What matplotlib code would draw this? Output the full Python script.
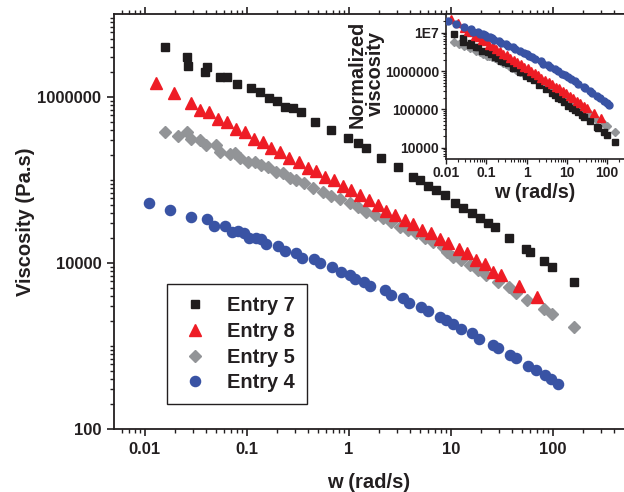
import matplotlib
matplotlib.use('Agg')
import matplotlib.pyplot as plt
from matplotlib.ticker import FixedLocator, FixedFormatter, NullFormatter
import numpy as np

plt.rcParams['font.family'] = ['Liberation Sans', 'DejaVu Sans']
plt.rcParams['font.weight'] = 'bold'

# ---------------- data ----------------
w7 = [0.0157, 0.0257, 0.0268, 0.0387, 0.0408, 0.0543, 0.0641, 0.0804, 0.109, 0.134,
      0.166, 0.198, 0.236, 0.284, 0.343, 0.464, 0.676, 0.984, 1.23, 1.49, 2.09, 3.04,
      4.27, 4.97, 5.99, 7.24, 8.73, 10.9, 13.2, 16.0, 19.2, 23.2, 27.0, 37.1, 55.2,
      60.4, 81.6, 99.3, 160.7]
eta7 = [3.97e6, 3.06e6, 2.36e6, 2.02e6, 2.28e6, 1.73e6, 1.73e6, 1.42e6, 1.27e6, 1.14e6,
        9.65e5, 8.95e5, 7.64e5, 7.31e5, 6.65e5, 5.04e5, 4.0e5, 3.18e5, 2.77e5, 2.41e5,
        1.83e5, 1.42e5, 1.10e5, 1.0e5, 8.47e4, 7.58e4, 6.60e4, 5.24e4, 4.56e4, 3.97e4,
        3.46e4, 3.01e4, 2.69e4, 2.02e4, 1.46e4, 1.37e4, 1.07e4, 9.03e3, 5.95e3]

w8 = [0.0130, 0.0194, 0.0282, 0.0346, 0.0427, 0.0524, 0.0647, 0.078, 0.097, 0.117,
      0.1445, 0.1746, 0.214, 0.258, 0.326, 0.399, 0.482, 0.591, 0.718, 0.879, 1.06,
      1.28, 1.58, 1.94, 2.34, 2.87, 3.54, 4.27, 5.28, 6.47, 7.85, 9.51, 12.1, 14.5,
      17.9, 21.5, 26.0, 31.4, 46.7, 70.2]
eta8 = [1.46e6, 1.13e6, 8.54e5, 6.97e5, 6.54e5, 5.38e5, 4.96e5, 4.11e5, 3.82e5, 3.12e5,
        2.89e5, 2.41e5, 2.19e5, 1.83e5, 1.66e5, 1.38e5, 1.29e5, 1.10e5, 1.0e5, 8.47e4,
        7.58e4, 6.60e4, 5.74e4, 5.0e4, 4.27e4, 3.79e4, 3.30e4, 2.95e4, 2.50e4, 2.28e4,
        1.92e4, 1.73e4, 1.46e4, 1.31e4, 1.09e4, 9.65e3, 7.86e3, 7.17e3, 5.28e3, 3.93e3]

w5 = [0.0159, 0.0212, 0.0257, 0.0287, 0.0346, 0.0396, 0.0505, 0.0543, 0.0681, 0.0762,
      0.0853, 0.103, 0.120, 0.139, 0.162, 0.195, 0.227, 0.264, 0.307, 0.362, 0.447,
      0.560, 0.676, 0.817, 1.02, 1.23, 1.49, 1.80, 2.17, 2.62, 3.16, 3.81, 4.61, 5.56,
      6.70, 8.41, 9.24, 10.5, 12.7, 15.4, 18.5, 22.4, 29.1, 37.1, 43.4, 56.0, 81.6,
      99.3, 160.7]
eta5 = [3.79e5, 3.39e5, 3.82e5, 3.09e5, 3.03e5, 2.64e5, 2.64e5, 2.19e5, 2.06e5, 2.13e5,
        1.83e5, 1.66e5, 1.66e5, 1.52e5, 1.42e5, 1.26e5, 1.20e5, 1.05e5, 1.0e5, 9.2e4,
        8.12e4, 7.23e4, 6.45e4, 5.85e4, 5.24e4, 4.77e4, 4.15e4, 3.79e4, 3.46e4, 3.15e4,
        2.74e4, 2.50e4, 2.28e4, 1.99e4, 1.78e4, 1.56e4, 1.37e4, 1.19e4, 1.09e4, 9.46e3,
        8.24e3, 7.17e3, 5.95e3, 5.18e3, 4.31e3, 3.58e3, 2.77e3, 2.43e3, 1.71e3]

w4 = [0.0109, 0.0176, 0.0287, 0.0412, 0.0474, 0.0618, 0.0718, 0.0817, 0.0935, 0.105,
      0.124, 0.139, 0.156, 0.203, 0.236, 0.307, 0.352, 0.454, 0.529, 0.692, 0.847,
      1.02, 1.15, 1.40, 1.61, 2.25, 2.62, 3.41, 3.90, 5.16, 5.99, 7.80, 8.93, 10.5,
      12.7, 16.0, 19.0, 26.0, 29.1, 37.9, 43.4, 57.3, 68.1, 83.5, 97.1, 112.7]
eta4 = [5.24e4, 4.35e4, 3.61e4, 3.39e4, 2.81e4, 2.81e4, 2.38e4, 2.43e4, 2.32e4, 1.99e4,
        1.99e4, 1.93e4, 1.68e4, 1.60e4, 1.40e4, 1.31e4, 1.16e4, 1.11e4, 9.92e3, 8.88e3,
        7.86e3, 7.17e3, 6.36e3, 5.95e3, 5.28e3, 4.73e3, 4.12e3, 3.76e3, 3.32e3, 2.97e3,
        2.66e3, 2.25e3, 2.06e3, 1.84e3, 1.60e3, 1.42e3, 1.20e3, 1.03e3, 938, 779, 711,
        574, 514, 447, 397, 349]

labels = ['Entry 7', 'Entry 8', 'Entry 5', 'Entry 4']
# normalisation factors of the inset
norm7, norm8, norm5, norm4 = 2.4, 15.5, 15.0, 380.0

x_ticks = [0.01, 0.1, 1, 10, 100]
x_ticklabels = ['0.01', '0.1', '1', '10', '100']
y_ticks = [1e2, 1e4, 1e6]
y_ticklabels = ['100', '10000', '1000000']
yin_ticks = [1e4, 1e5, 1e6, 1e7]
yin_ticklabels = ['10000', '100000', '1000000', '1E7']

# ---------------- style ----------------
C7, C8, C5, C4 = '#1f1c1d', '#ee1c25', '#929497', '#3953a4'
TXT = '#231f20'

fig = plt.figure(figsize=(6.24, 4.92), dpi=100)
W, H = 624.0, 492.0
ax = fig.add_axes([114 / W, 63 / H, 510 / W, 415 / H])

def minors(lo_exp, hi_exp):
    out = []
    for e in range(lo_exp, hi_exp):
        for m in range(1, 10):
            out.append(m * 10.0 ** e)
    return out

h5, = ax.plot(w5, eta5, 'D', color=C5, ms=5.8, mec=C5, ls='none', zorder=2)
h7, = ax.plot(w7, eta7, 's', color=C7, ms=6.3, mec=C7, ls='none', zorder=3)
h8, = ax.plot(w8, eta8, '^', color=C8, ms=8.0, mec=C8, ls='none', zorder=3)
h4, = ax.plot(w4, eta4, 'o', color=C4, ms=7.3, mec=C4, ls='none', zorder=3)

ax.set_xscale('log')
ax.set_yscale('log')
ax.set_xlim(0.005, 500)
ax.set_ylim(100, 1e7)

ax.xaxis.set_major_locator(FixedLocator(x_ticks))
ax.xaxis.set_major_formatter(FixedFormatter(x_ticklabels))
ax.xaxis.set_minor_locator(FixedLocator([v for v in minors(-3, 3) if 0.005 < v < 500 and v not in x_ticks]))
ax.xaxis.set_minor_formatter(NullFormatter())
ax.yaxis.set_major_locator(FixedLocator(y_ticks))
ax.yaxis.set_major_formatter(FixedFormatter(y_ticklabels))
ax.yaxis.set_minor_locator(FixedLocator([v for v in minors(2, 7) if v not in y_ticks]))
ax.yaxis.set_minor_formatter(NullFormatter())

for s in ['left', 'bottom', 'top']:
    ax.spines[s].set_linewidth(1.3)
    ax.spines[s].set_color(TXT)
ax.spines['right'].set_visible(False)
ax.tick_params(which='both', direction='out', colors=TXT, top=True, right=False)
ax.tick_params(which='major', length=5, width=1.2, labelsize=12, pad=4)
ax.tick_params(which='minor', length=3, width=1.0)
for t in ax.get_xticklabels() + ax.get_yticklabels():
    t.set_fontweight('bold')

ax.set_xlabel('w (rad/s)', fontsize=14.5, fontweight='bold', color=TXT, labelpad=12)
ax.set_ylabel('Viscosity (Pa.s)', fontsize=14.5, fontweight='bold', color=TXT, labelpad=2)

leg = ax.legend([h7, h8, h5, h4], labels, loc='upper left',
                bbox_to_anchor=((167 - 114) / 510, (429 - 284) / 415),
                borderaxespad=0, frameon=True, fancybox=False, framealpha=1,
                edgecolor=TXT, labelspacing=0.34, handlelength=1.6,
                handletextpad=0.8, borderpad=0.6, prop={'weight': 'bold', 'size': 14.4})
leg.get_frame().set_linewidth(1.0)
for t in leg.get_texts():
    t.set_color(TXT)

# ---------------- inset ----------------
axi = fig.add_axes([446 / W, (H - 159) / H, 178 / W, 145 / H])
axi.plot(w5, np.array(eta5) * norm5, 'D', color=C5, ms=3.8, mec=C5, ls='none', zorder=2)
axi.plot(w7, np.array(eta7) * norm7, 's', color=C7, ms=4.2, mec=C7, ls='none', zorder=3)
axi.plot(w8, np.array(eta8) * norm8, '^', color=C8, ms=5.2, mec=C8, ls='none', zorder=3)
axi.plot(w4, np.array(eta4) * norm4, 'o', color=C4, ms=5.0, mec=C4, ls='none', zorder=3)
axi.set_xscale('log')
axi.set_yscale('log')
axi.set_xlim(0.01, 263)
axi.set_ylim(5070, 3.08e7)
axi.xaxis.set_major_locator(FixedLocator(x_ticks))
axi.xaxis.set_major_formatter(FixedFormatter(x_ticklabels))
axi.xaxis.set_minor_locator(FixedLocator([v for v in minors(-2, 3) if 0.01 < v < 263 and v not in x_ticks]))
axi.xaxis.set_minor_formatter(NullFormatter())
axi.yaxis.set_major_locator(FixedLocator(yin_ticks))
axi.yaxis.set_major_formatter(FixedFormatter(yin_ticklabels))
axi.yaxis.set_minor_locator(FixedLocator([v for v in minors(3, 8) if 5070 < v < 3.08e7 and v not in yin_ticks]))
axi.yaxis.set_minor_formatter(NullFormatter())
for s in ['left', 'bottom', 'top']:
    axi.spines[s].set_linewidth(1.2)
    axi.spines[s].set_color(TXT)
axi.spines['right'].set_visible(False)
axi.tick_params(which='both', direction='out', colors=TXT)
axi.tick_params(which='major', length=3.5, width=1.0, labelsize=10, pad=1.5)
axi.tick_params(which='minor', length=2, width=0.8)
for t in axi.get_xticklabels() + axi.get_yticklabels():
    t.set_fontweight('bold')
axi.set_xlabel('w (rad/s)', fontsize=14.2, fontweight='bold', color=TXT, labelpad=2)

fig.text(366 / W, 1 - 74 / H, 'Normalized\nviscosity', rotation=90, ha='center', va='center',
         fontsize=14.3, fontweight='bold', color=TXT, multialignment='center', linespacing=0.95)

fig.savefig('out.png', dpi=100)
